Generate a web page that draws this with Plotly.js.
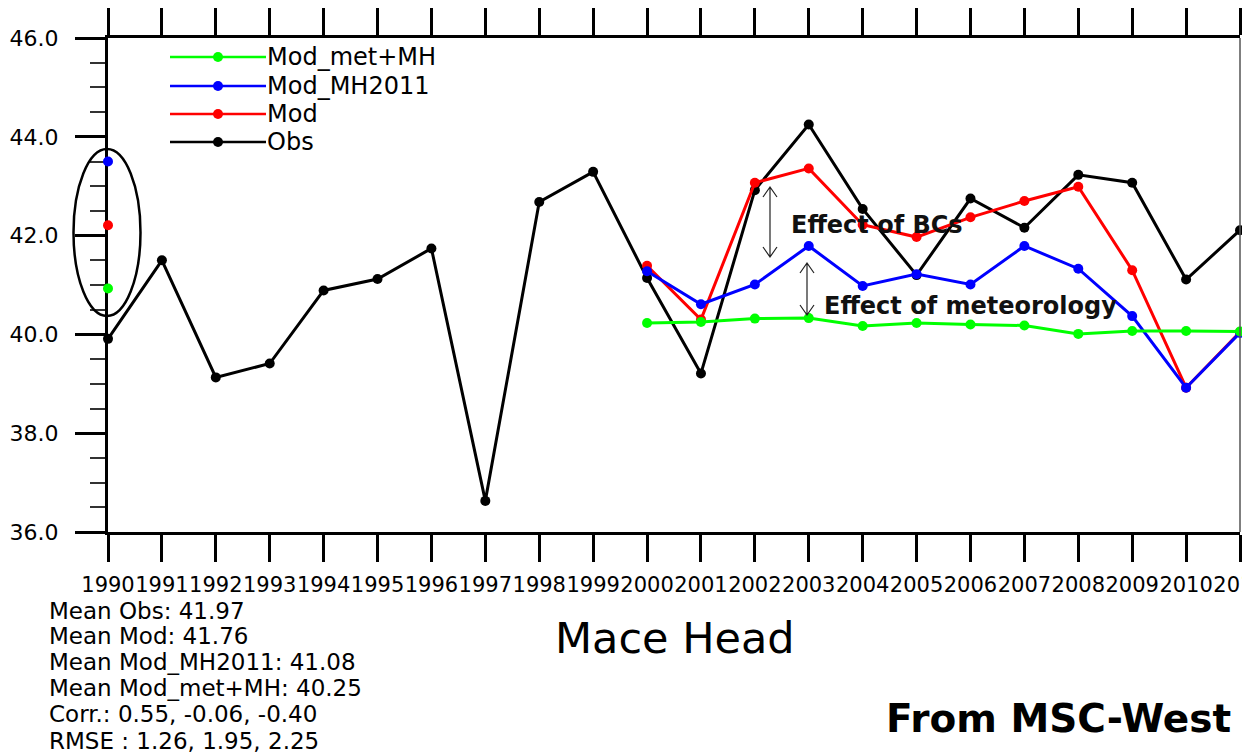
<!DOCTYPE html>
<html><head><meta charset="utf-8">
<script src="https://cdn.plot.ly/plotly-3.0.1.min.js"></script>
<style>html,body{margin:0;padding:0;background:#fff;overflow:hidden}</style>
</head><body><div id="chart" style="width:1242px;height:754px"></div>
<script>
// ---- data ----
const years = [1990,1991,1992,1993,1994,1995,1996,1997,1998,1999,2000,2001,2002,2003,2004,2005,2006,2007,2008,2009,2010,2011];
const obs = [39.91,41.50,39.13,39.41,40.89,41.12,41.74,36.63,42.68,43.29,41.14,39.21,42.92,44.25,42.54,41.20,42.75,42.16,43.23,43.07,41.11,42.11];
const mod = [42.21,null,null,null,null,null,null,null,null,null,41.39,40.30,43.07,43.36,42.22,41.97,42.37,42.70,42.99,41.30,38.92,40.05];
const modMH2011 = [43.50,null,null,null,null,null,null,null,null,null,41.28,40.61,41.01,41.79,40.98,41.22,41.01,41.79,41.33,40.37,38.92,40.03];
const modMetMH = [40.93,null,null,null,null,null,null,null,null,null,40.23,40.25,40.32,40.33,40.17,40.23,40.20,40.18,40.01,40.07,40.07,40.06];
const seriesNames = ['Mod_met+MH','Mod_MH2011','Mod','Obs'];
const seriesColors = ['#00ff00','#0000ff','#ff0000','#000000'];
const statLines = ['Mean Obs: 41.97','Mean Mod: 41.76','Mean Mod_MH2011: 41.08','Mean Mod_met+MH: 40.25','Corr.: 0.55, -0.06, -0.40','RMSE : 1.26, 1.95, 2.25'];
const yTickVals = [36,38,40,42,44,46];
const stationName = 'Mace Head';
const sourceText = 'From MSC-West';
const noteBCs = 'Effect of BCs';
const noteMet = 'Effect of meteorology';

// ---- layout geometry (pixels) ----
const W = 1242, H = 754, L = 108, R = 2, T = 38, B = 222;
const PW = W - L - R, PH = H - T - B;
const px = x => (x - L) / PW;
const py = y => (T + PH - y) / PH;
const FONT = 'DejaVu Sans';

function mk(y, name, color) {
  return {x: years, y: y, name: name, type: 'scatter', mode: 'lines+markers',
    connectgaps: false, cliponaxis: false,
    line: {color: color, width: 3}, marker: {color: color, size: 10}};
}
const traces = [
  mk(obs, 'Obs', seriesColors[3]),
  mk(mod, 'Mod', seriesColors[2]),
  mk(modMH2011, 'Mod_MH2011', seriesColors[1]),
  mk(modMetMH, 'Mod_met+MH', seriesColors[0])
];

const shapes = [];
const annotations = [];

// ellipse around 1990 points
shapes.push({type: 'circle', xref: 'paper', yref: 'paper',
  x0: px(73.5), x1: px(140.5), y0: py(316), y1: py(149),
  line: {color: '#000', width: 2.5}, layer: 'above'});
// right border
shapes.push({type: 'line', xref: 'paper', yref: 'paper', x0: 1, x1: 1, y0: 0, y1: 1,
  line: {color: '#555', width: 1.5}});

// manual legend
const legRows = [57, 86, 114, 142];
seriesNames.forEach((n, i) => {
  const yy = legRows[i];
  shapes.push({type: 'line', xref: 'paper', yref: 'paper', x0: px(170), x1: px(266), y0: py(yy), y1: py(yy),
    line: {color: seriesColors[i], width: 2.5}});
  shapes.push({type: 'circle', xref: 'paper', yref: 'paper', fillcolor: seriesColors[i],
    x0: px(213), x1: px(223), y0: py(yy + 5), y1: py(yy - 5), line: {color: seriesColors[i], width: 0}});
  annotations.push({xref: 'paper', yref: 'paper', x: px(265), y: py(yy), xanchor: 'left', yanchor: 'middle',
    text: n, showarrow: false, font: {family: FONT, size: 24, color: '#000'}});
});

// double arrows
function dblArrow(x, y1, y2) {
  const hw = 7, hh = 10;
  const p = (a, b) => px(a) + ',' + py(b);
  shapes.push({type: 'path', xref: 'paper', yref: 'paper', line: {color: '#222', width: 1.2},
    path: 'M' + p(x, y1) + ' L' + p(x, y2) +
          ' M' + p(x - hw, y1 + hh) + ' L' + p(x, y1) + ' L' + p(x + hw, y1 + hh) +
          ' M' + p(x - hw, y2 - hh) + ' L' + p(x, y2) + ' L' + p(x + hw, y2 - hh)});
}
dblArrow(770, 187, 257);
dblArrow(807, 263, 315);

annotations.push({xref: 'paper', yref: 'paper', x: px(789), y: py(225), xanchor: 'left', yanchor: 'middle',
  text: noteBCs, showarrow: false, font: {family: FONT, size: 24, weight: 'bold', color: '#111'}});
annotations.push({xref: 'paper', yref: 'paper', x: px(822), y: py(306), xanchor: 'left', yanchor: 'middle',
  text: noteMet, showarrow: false, font: {family: FONT, size: 24, weight: 'bold', color: '#111'}});

// stats block
const statY = [611, 636, 662, 687.5, 714, 741];
statLines.forEach((s, i) => {
  annotations.push({xref: 'paper', yref: 'paper', x: px(47), y: py(statY[i]), xanchor: 'left', yanchor: 'middle',
    text: s, showarrow: false, font: {family: FONT, size: 23, color: '#000'}});
});
annotations.push({xref: 'paper', yref: 'paper', x: px(675), y: py(637.5), xanchor: 'center', yanchor: 'middle',
  text: stationName, showarrow: false, font: {family: FONT, size: 43, color: '#000'}});
annotations.push({xref: 'paper', yref: 'paper', x: px(884), y: py(718), xanchor: 'left', yanchor: 'middle',
  text: sourceText, showarrow: false, font: {family: FONT, size: 39, weight: 'bold', color: '#000'}});

const layout = {
  width: W, height: H, margin: {l: L, r: R, t: T, b: B, pad: 0},
  paper_bgcolor: '#fff', plot_bgcolor: '#fff', showlegend: false,
  xaxis: {range: [1990, 2011], tickmode: 'array', tickvals: years, ticktext: years.map(String),
    tickangle: 0, automargin: false, ticklabeloverflow: 'allow',
    ticks: 'outside', ticklen: 27, tickwidth: 3, tickcolor: '#000',
    showline: true, linewidth: 3, linecolor: '#000', mirror: 'ticks',
    showgrid: false, zeroline: false, layer: 'below traces', ticklabelstandoff: 5,
    tickfont: {family: FONT, size: 21, color: '#000'}},
  yaxis: {range: [36, 46], tickmode: 'array', tickvals: yTickVals, ticktext: yTickVals.map(v => v.toFixed(1)),
    automargin: false,
    ticks: 'outside', ticklen: 30, tickwidth: 3, tickcolor: '#000',
    minor: {dtick: 0.5, tick0: 36, ticks: 'outside', ticklen: 15, tickwidth: 2, tickcolor: '#333', showgrid: false},
    showline: true, linewidth: 3, linecolor: '#000',
    showgrid: false, zeroline: false, layer: 'below traces', ticklabelstandoff: 12,
    tickfont: {family: FONT, size: 22, color: '#000'}},
  shapes: shapes, annotations: annotations
};
Plotly.newPlot('chart', traces, layout, {displayModeBar: false, staticPlot: true});
</script></body></html>
